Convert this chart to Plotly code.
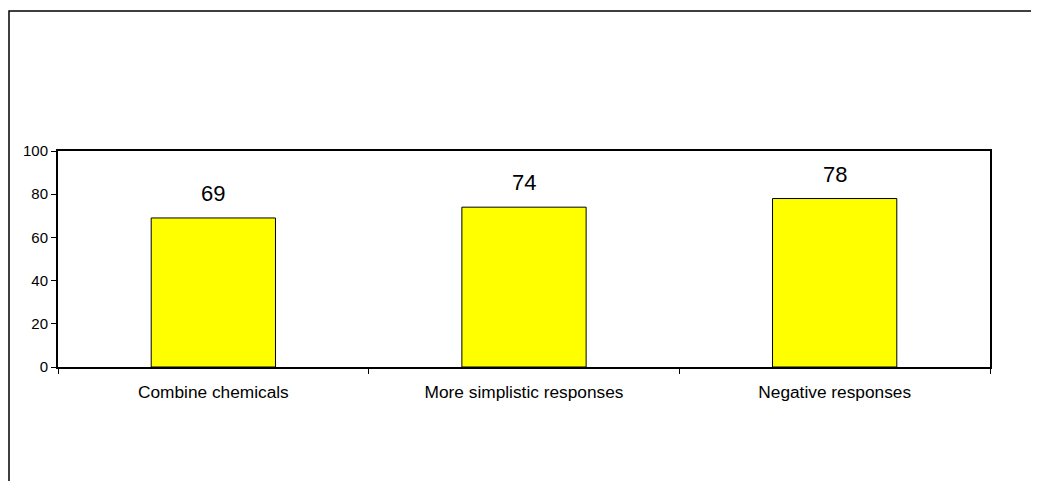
import plotly.graph_objects as go

categories = ["Combine chemicals", "More simplistic responses", "Negative responses"]
values = [69, 74, 78]
y_ticks = [0, 20, 40, 60, 80, 100]

# page has an 8px body offset; compensate
W, H = 1031, 473
L, R, T, B = 50, 49, 143, 114
pw, ph = W - L - R, H - T - B

fig = go.Figure()
fig.add_trace(go.Bar(
    x=categories, y=values,
    marker=dict(color="#FFFF00", line=dict(color="black", width=1)),
    showlegend=False,
))
for c, v in zip(categories, values):
    fig.add_annotation(x=c, y=v, text=str(v), showarrow=False,
                       yanchor="bottom", yshift=10,
                       font=dict(size=22, color="black",
                                 family="Liberation Sans, Arial"))

fig.update_layout(
    width=W, height=H,
    margin=dict(l=L, r=R, t=T, b=B),
    paper_bgcolor="white", plot_bgcolor="white",
    font=dict(family="Liberation Sans, Arial", color="black", size=15),
    bargap=0.6, showlegend=False,
)
fig.update_xaxes(
    showline=True, linecolor="black", linewidth=2, mirror=True,
    ticks="outside", tickson="boundaries", ticklen=5, tickcolor="black",
    showgrid=False, tickfont=dict(size=17.3), ticklabelstandoff=8,
)
fig.update_yaxes(
    range=[0, 100], tickvals=y_ticks, showline=True, linecolor="black",
    linewidth=2, mirror=True, ticks="outside", ticklen=5, tickcolor="black",
    showgrid=False, zeroline=False, tickfont=dict(size=15),
)

# outer frame (chart area border)
fig.add_shape(type="rect", xref="paper", yref="paper",
              x0=(1 - L) / pw, x1=(1060 - L) / pw,
              y0=(H - B - 520) / ph, y1=(H - B - 3) / ph,
              line=dict(color="black", width=1.5), layer="below")

fig.write_html("out.html")
